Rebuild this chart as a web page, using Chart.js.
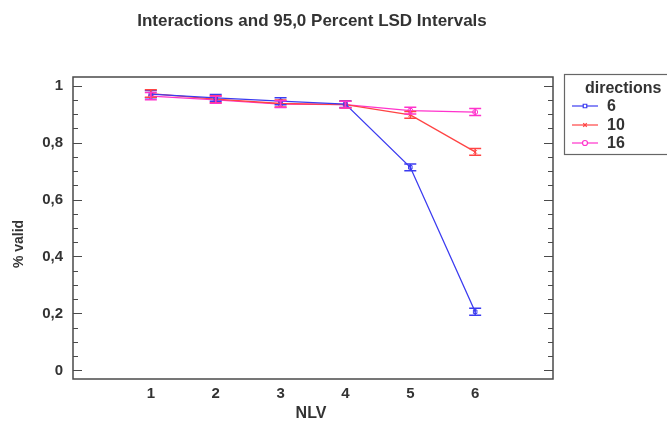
<!DOCTYPE html>
<html>
<head>
<meta charset="utf-8">
<script src="https://cdn.jsdelivr.net/npm/chart.js@4.4.0/dist/chart.umd.min.js"></script>
<style>
html, body { margin: 0; padding: 0; background: #fff; }
#grafico { display: block; }
</style>
</head>
<body>
<canvas id="grafico" width="667" height="424"></canvas>
<script>
// dados
const nlv = [1, 2, 3, 4, 5, 6];
const yTicks = [0, 0.2, 0.4, 0.6, 0.8, 1];
const directions = ['6', '10', '16'];
const valid6 = [0.970, 0.957, 0.945, 0.935, 0.713, 0.206];
const valid10 = [0.972, 0.952, 0.937, 0.933, 0.897, 0.767];
const valid16 = [0.963, 0.950, 0.935, 0.933, 0.912, 0.907];
// meia largura dos intervalos LSD
const lsd6 = [0.013, 0.012, 0.012, 0.012, 0.012, 0.012];
const lsd10 = [0.013, 0.012, 0.012, 0.012, 0.012, 0.012];
const lsd16 = [0.013, 0.012, 0.012, 0.012, 0.012, 0.012];

const cores = ['#3b3bf0', '#ff4444', '#ff33cc'];
const estilos = ['rect', 'crossRot', 'circle'];
const corTexto = '#333333';
const fonte = '"Liberation Sans", Arial, sans-serif';

function serie(valores) {
    return valores.map((v, i) => ({ x: nlv[i], y: v }));
}

function virgula(v) {
    if (v === 0) return '0';
    if (v === 1) return '1';
    return v.toFixed(1).replace('.', ',');
}

// barras de erro, moldura, títulos e legenda
const extras = {
    id: 'extras',
    afterDatasetsDraw(chart) {
        const ctx = chart.ctx;
        const xs = chart.scales.x;
        const ys = chart.scales.y;
        const erros = [lsd6, lsd10, lsd16];
        chart.data.datasets.forEach((ds, d) => {
            ctx.save();
            ctx.strokeStyle = cores[d];
            ctx.lineWidth = 1.5;
            ds.data.forEach((p, i) => {
                const px = xs.getPixelForValue(p.x);
                const y1 = ys.getPixelForValue(p.y + erros[d][i]);
                const y2 = ys.getPixelForValue(p.y - erros[d][i]);
                ctx.beginPath();
                ctx.moveTo(px, y1); ctx.lineTo(px, y2);
                ctx.moveTo(px - 6, y1); ctx.lineTo(px + 6, y1);
                ctx.moveTo(px - 6, y2); ctx.lineTo(px + 6, y2);
                ctx.stroke();
            });
            ctx.restore();
        });
    },
    afterDraw(chart) {
        const ctx = chart.ctx;
        const a = chart.chartArea;
        const ys = chart.scales.y;
        ctx.save();
        ctx.strokeStyle = '#4a4a4a';
        ctx.lineWidth = 1.5;
        ctx.strokeRect(a.left, a.top, a.right - a.left, a.bottom - a.top);
        ctx.lineWidth = 1.2;
        for (let k = 0; k <= 20; k++) {
            const py = Math.round(ys.getPixelForValue(k * 0.05)) + 0.5;
            const len = k % 4 === 0 ? 9 : 5;
            ctx.beginPath();
            ctx.moveTo(a.left, py); ctx.lineTo(a.left + len, py);
            ctx.moveTo(a.right, py); ctx.lineTo(a.right - len, py);
            ctx.stroke();
        }

        ctx.fillStyle = corTexto;
        ctx.textAlign = 'center';
        ctx.textBaseline = 'middle';
        ctx.font = 'bold 17px ' + fonte;
        ctx.fillText('Interactions and 95,0 Percent LSD Intervals', 312, 21);
        ctx.font = 'bold 16px ' + fonte;
        ctx.fillText('NLV', 311, 414);
        ctx.save();
        ctx.translate(19, 244);
        ctx.rotate(-Math.PI / 2);
        ctx.font = 'bold 14px ' + fonte;
        ctx.fillText('% valid', 0, 0);
        ctx.restore();

        // legenda
        ctx.strokeStyle = '#666';
        ctx.lineWidth = 1.2;
        ctx.strokeRect(564.5, 74.5, 110, 80);
        ctx.textAlign = 'left';
        ctx.font = 'bold 16px ' + fonte;
        ctx.fillText('directions', 585, 89);
        const linhas = [106, 125, 143];
        directions.forEach((nome, d) => {
            const ly = linhas[d];
            ctx.strokeStyle = cores[d];
            ctx.lineWidth = 1.2;
            ctx.beginPath();
            ctx.moveTo(572, ly); ctx.lineTo(598, ly);
            ctx.stroke();
            ctx.fillStyle = '#ffffff';
            Chart.helpers.drawPoint(ctx, { pointStyle: estilos[d], radius: 2.5, borderWidth: 1 }, 585, ly);
            ctx.fillStyle = corTexto;
            ctx.fillText(nome, 607, ly + 1);
        });
        ctx.restore();
    }
};

const conjuntos = [valid6, valid10, valid16].map((valores, d) => ({
    label: directions[d],
    data: serie(valores),
    borderColor: cores[d],
    backgroundColor: '#ffffff',
    borderWidth: 1.3,
    pointStyle: estilos[d],
    pointRadius: 2.5,
    pointBorderWidth: 1,
    pointBorderColor: cores[d],
    pointBackgroundColor: 'rgba(255,255,255,0)',
    tension: 0
}));

new Chart(document.getElementById('grafico'), {
    type: 'line',
    data: { datasets: conjuntos },
    options: {
        responsive: false,
        animation: false,
        layout: { padding: { top: 77, right: 114, left: 0, bottom: 0 } },
        plugins: {
            legend: { display: false },
            title: { display: false },
            tooltip: { enabled: false }
        },
        scales: {
            x: {
                type: 'linear',
                min: -0.2,
                max: 7.2,
                afterBuildTicks: s => { s.ticks = nlv.map(v => ({ value: v })); },
                afterFit: s => { s.height = 45; },
                grid: { display: false, drawTicks: false },
                border: { display: false },
                ticks: {
                    padding: 6,
                    color: corTexto,
                    font: { family: fonte, size: 15, weight: 'bold' }
                }
            },
            y: {
                min: -0.03,
                max: 1.03,
                afterBuildTicks: s => { s.ticks = yTicks.map(v => ({ value: v })); },
                afterFit: s => { s.width = 73; },
                grid: { display: false, drawTicks: false },
                border: { display: false },
                ticks: {
                    padding: 10,
                    color: corTexto,
                    font: { family: fonte, size: 15, weight: 'bold' },
                    callback: v => virgula(v)
                }
            }
        }
    },
    plugins: [extras]
});
</script>
</body>
</html>
